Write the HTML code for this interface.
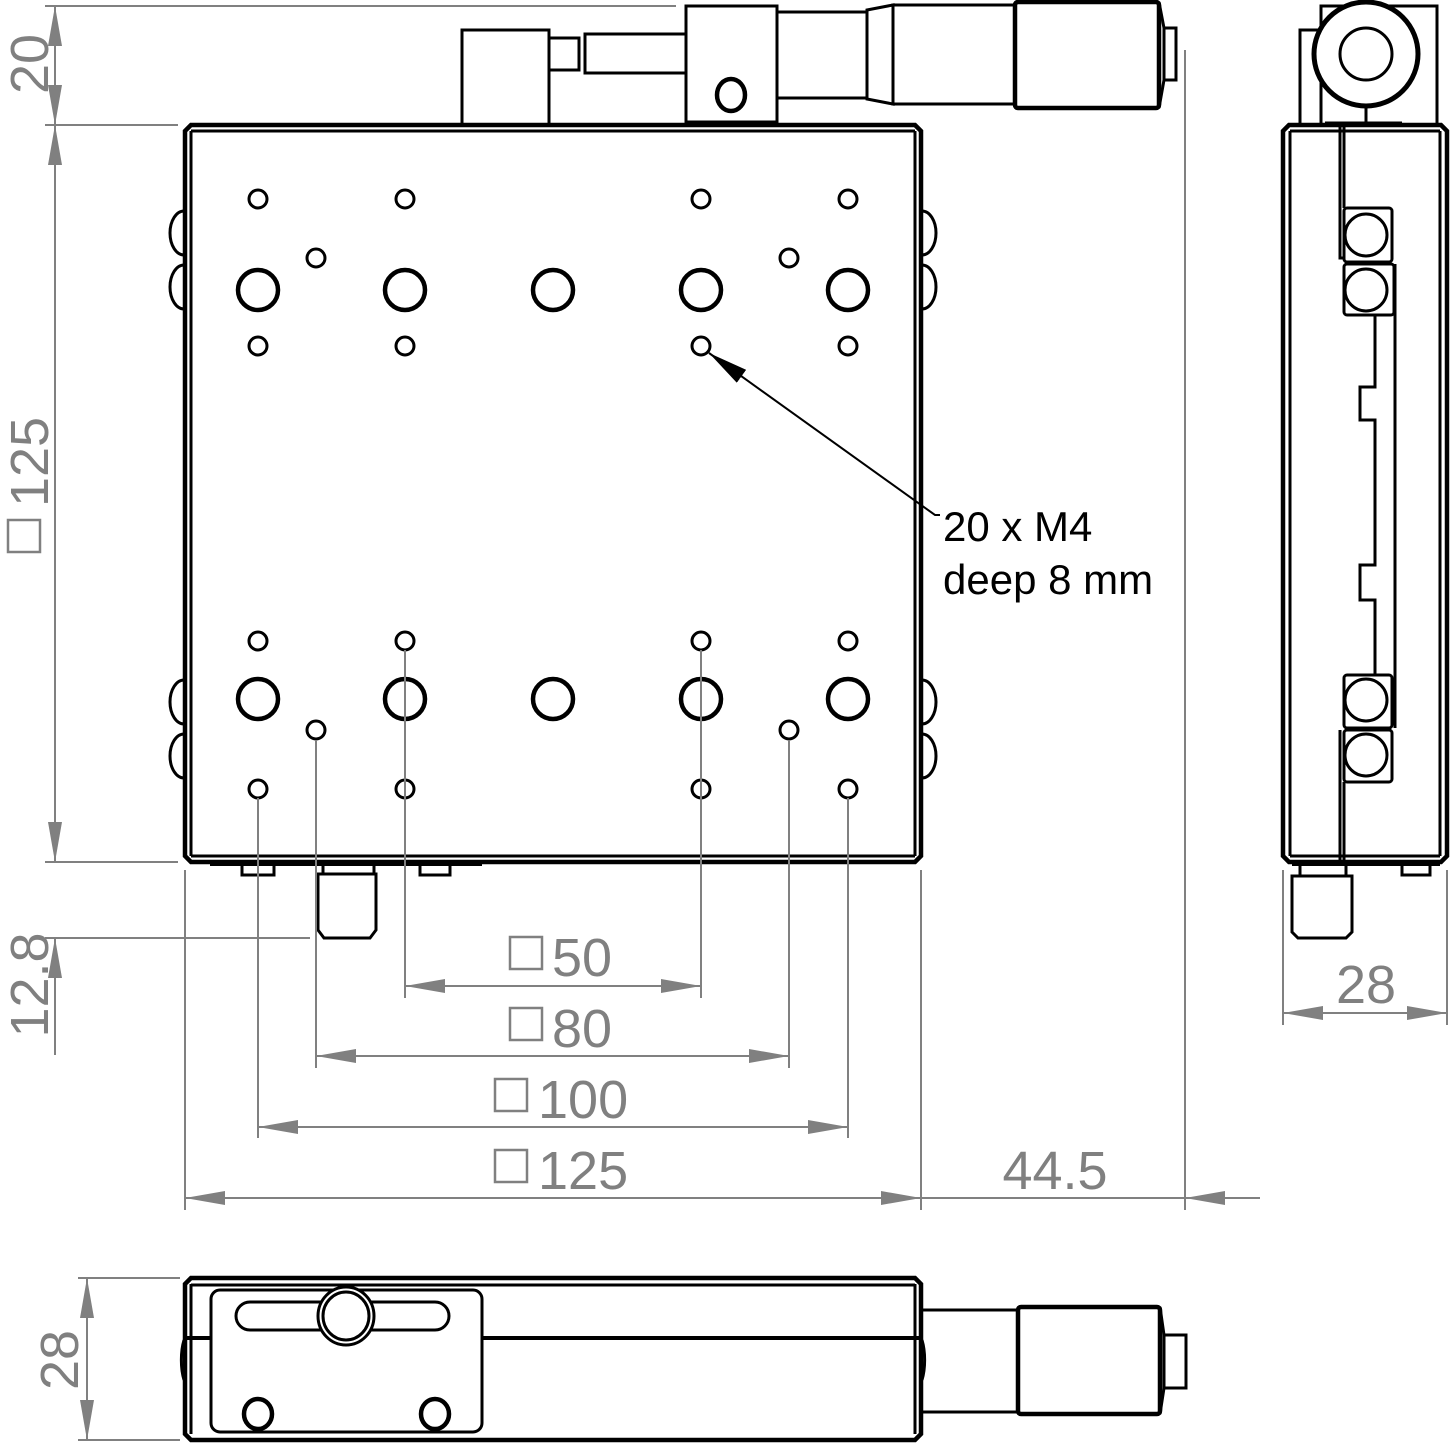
<!DOCTYPE html>
<html><head><meta charset="utf-8"><style>
html,body{margin:0;padding:0;background:#fff;width:1450px;height:1445px;overflow:hidden}
svg{display:block}
.k{fill:none;stroke:#000;stroke-width:3}
.kt{fill:none;stroke:#000;stroke-width:4.5}
.g{fill:none;stroke:#808080;stroke-width:2}
.dt{font-family:"Liberation Sans",sans-serif;font-size:54px;fill:#808080}
.bt{font-family:"Liberation Sans",sans-serif;font-size:42px;fill:#000}
.sq{fill:none;stroke:#808080;stroke-width:2.5}
</style></head><body>
<svg width="1450" height="1445" viewBox="0 0 1450 1445" xmlns="http://www.w3.org/2000/svg">
<defs>
<marker id="a" viewBox="0 0 40 14" refX="40" refY="7" markerWidth="40" markerHeight="14" markerUnits="userSpaceOnUse" orient="auto-start-reverse"><path d="M0,0 L40,7 L0,14z" fill="#808080"/></marker>
<marker id="b" viewBox="0 0 40 16" refX="40" refY="8" markerWidth="40" markerHeight="16" markerUnits="userSpaceOnUse" orient="auto"><path d="M0,0 L40,8 L0,16z" fill="#000"/></marker>
</defs>

<!-- TOP MICROMETER -->
<rect class="k" x="462" y="30" width="87" height="95"/>
<rect class="k" x="549" y="38" width="30" height="32"/>
<rect class="k" x="585" y="34" width="101" height="39"/>
<rect class="k" x="686" y="6" width="91" height="116"/>
<ellipse class="kt" cx="731" cy="95" rx="14" ry="16"/>
<rect class="k" x="777" y="12" width="90" height="86"/>
<path class="k" d="M867,10 L893,5 L893,104 L867,99z"/>
<rect class="k" x="893" y="5" width="122" height="99"/>
<rect class="kt" x="1015" y="2" width="144" height="106" rx="3"/>
<path class="k" d="M1159,2 L1164,28 L1164,80 L1159,108"/>
<rect class="k" x="1164" y="28" width="12" height="52"/>

<!-- MAIN PLATE -->
<path class="kt" d="M191,125 L915,125 L921,131 L921,856 L915,862 L191,862 L185,856 L185,131z"/>
<line class="k" x1="191" y1="131" x2="191" y2="856"/>
<line class="k" x1="915" y1="131" x2="915" y2="856"/>
<line class="k" x1="191" y1="131" x2="915" y2="131"/>
<line class="k" x1="191" y1="856" x2="915" y2="856"/>
<g class="k">
<path d="M184,211 A14,22 0 0 0 184,255"/><path d="M184,265 A14,22 0 0 0 184,309"/>
<path d="M184,680 A14,22 0 0 0 184,724"/><path d="M184,734 A14,22 0 0 0 184,778"/>
<path d="M922,211 A14,22 0 0 1 922,255"/><path d="M922,265 A14,22 0 0 1 922,309"/>
<path d="M922,680 A14,22 0 0 1 922,724"/><path d="M922,734 A14,22 0 0 1 922,778"/>
</g>
<rect x="210" y="862" width="272" height="4" fill="#000"/>
<path class="k" d="M242,866 L242,875 L274,875 L274,866"/>
<path class="k" d="M420,866 L420,875 L450,875 L450,866"/>
<path class="k" d="M323,866 L323,874 L374,874 L374,866"/>
<path class="k" d="M318,874 L376,874 L376,930 L370,938 L324,938 L318,930z"/>

<g class="k">
<circle cx="258" cy="199" r="9"/><circle cx="405" cy="199" r="9"/><circle cx="701" cy="199" r="9"/><circle cx="848" cy="199" r="9"/>
<circle cx="258" cy="346" r="9"/><circle cx="405" cy="346" r="9"/><circle cx="701" cy="346" r="9"/><circle cx="848" cy="346" r="9"/>
<circle cx="258" cy="641" r="9"/><circle cx="405" cy="641" r="9"/><circle cx="701" cy="641" r="9"/><circle cx="848" cy="641" r="9"/>
<circle cx="258" cy="789" r="9"/><circle cx="405" cy="789" r="9"/><circle cx="701" cy="789" r="9"/><circle cx="848" cy="789" r="9"/>
<circle cx="316" cy="258" r="9"/><circle cx="789" cy="258" r="9"/><circle cx="316" cy="730" r="9"/><circle cx="789" cy="730" r="9"/>
</g>
<g class="kt">
<circle cx="258" cy="290" r="20"/><circle cx="405" cy="290" r="20"/><circle cx="553" cy="290" r="20"/><circle cx="701" cy="290" r="20"/><circle cx="848" cy="290" r="20"/>
<circle cx="258" cy="699" r="20"/><circle cx="405" cy="699" r="20"/><circle cx="553" cy="699" r="20"/><circle cx="701" cy="699" r="20"/><circle cx="848" cy="699" r="20"/>
</g>
<polyline points="940,515 935,515 709,353" fill="none" stroke="#000" stroke-width="2" marker-end="url(#b)"/>
<text class="bt" x="943" y="541">20 x M4</text>
<text class="bt" x="943" y="594">deep 8 mm</text>

<!-- DIMENSIONS -->
<g class="g">
<line x1="45" y1="6" x2="676" y2="6"/>
<line x1="45" y1="125" x2="178" y2="125"/>
<line x1="45" y1="862" x2="178" y2="862"/>
<line x1="45" y1="938" x2="310" y2="938"/>
<line x1="185" y1="870" x2="185" y2="1210"/>
<line x1="921" y1="870" x2="921" y2="1210"/>
<line x1="1185" y1="50" x2="1185" y2="1210"/>
<line x1="405" y1="650" x2="405" y2="998"/>
<line x1="701" y1="650" x2="701" y2="998"/>
<line x1="316" y1="740" x2="316" y2="1068"/>
<line x1="789" y1="740" x2="789" y2="1068"/>
<line x1="258" y1="798" x2="258" y2="1138"/>
<line x1="848" y1="798" x2="848" y2="1138"/>
<line x1="1283" y1="870" x2="1283" y2="1025"/>
<line x1="1447" y1="870" x2="1447" y2="1025"/>
<line x1="78" y1="1278" x2="180" y2="1278"/>
<line x1="78" y1="1440" x2="180" y2="1440"/>
</g>
<g class="g">
<line x1="55" y1="6" x2="55" y2="125" marker-start="url(#a)" marker-end="url(#a)"/>
<line x1="55" y1="125" x2="55" y2="862" marker-start="url(#a)" marker-end="url(#a)"/>
<line x1="55" y1="1055" x2="55" y2="938" marker-end="url(#a)"/>
<line x1="405" y1="986" x2="701" y2="986" marker-start="url(#a)" marker-end="url(#a)"/>
<line x1="316" y1="1056" x2="789" y2="1056" marker-start="url(#a)" marker-end="url(#a)"/>
<line x1="258" y1="1127" x2="848" y2="1127" marker-start="url(#a)" marker-end="url(#a)"/>
<line x1="185" y1="1198" x2="921" y2="1198" marker-start="url(#a)" marker-end="url(#a)"/>
<line x1="921" y1="1198" x2="1185" y2="1198"/>
<line x1="1260" y1="1198" x2="1185" y2="1198" marker-end="url(#a)"/>
<line x1="1283" y1="1013" x2="1447" y2="1013" marker-start="url(#a)" marker-end="url(#a)"/>
<line x1="87" y1="1278" x2="87" y2="1440" marker-start="url(#a)" marker-end="url(#a)"/>
</g>
<text class="dt" transform="translate(48,64) rotate(-90)" text-anchor="middle">20</text>
<text class="dt" transform="translate(48,462) rotate(-90)" text-anchor="middle">125</text>
<rect class="sq" x="8" y="520" width="32" height="32"/>
<text class="dt" transform="translate(48,985) rotate(-90)" text-anchor="middle">12.8</text>
<text class="dt" transform="translate(78,1360) rotate(-90)" text-anchor="middle">28</text>
<rect class="sq" x="510" y="937" width="32" height="32"/><text class="dt" x="552" y="976">50</text>
<rect class="sq" x="510" y="1008" width="32" height="32"/><text class="dt" x="552" y="1047">80</text>
<rect class="sq" x="495" y="1079" width="32" height="32"/><text class="dt" x="538" y="1118">100</text>
<rect class="sq" x="495" y="1150" width="32" height="32"/><text class="dt" x="538" y="1189">125</text>
<text class="dt" x="1055" y="1189" text-anchor="middle">44.5</text>
<text class="dt" x="1366" y="1003" text-anchor="middle">28</text>

<!-- RIGHT SIDE VIEW -->
<rect class="k" x="1321" y="6" width="116" height="119"/>
<rect class="k" x="1300" y="30" width="21" height="95"/>
<circle cx="1366" cy="54" r="52" fill="#fff" stroke="#000" stroke-width="5"/>
<circle class="k" cx="1366" cy="54" r="26"/>
<line class="k" x1="1366" y1="106" x2="1366" y2="123"/>
<line x1="1325" y1="123" x2="1402" y2="123" stroke="#000" stroke-width="3"/>
<path class="kt" d="M1289,125 L1441,125 L1447,131 L1447,856 L1441,862 L1289,862 L1283,856 L1283,131z"/>
<line class="k" x1="1290" y1="131" x2="1290" y2="856"/>
<line class="k" x1="1440" y1="131" x2="1440" y2="856"/>
<line class="k" x1="1290" y1="131" x2="1440" y2="131"/>
<line class="k" x1="1290" y1="856" x2="1440" y2="856"/>
<path class="k" d="M1340,125 L1340,258 L1344,258"/>
<line class="k" x1="1344" y1="125" x2="1344" y2="208"/>
<line class="k" x1="1344" y1="782" x2="1344" y2="862"/>
<line class="k" x1="1340" y1="730" x2="1340" y2="862"/>
<rect class="k" x="1344" y="208" width="48" height="54" rx="3"/>
<rect class="k" x="1344" y="264" width="50" height="51" rx="3"/>
<circle class="k" cx="1366" cy="235" r="21"/><circle class="k" cx="1366" cy="290" r="21"/>
<rect class="k" x="1344" y="675" width="48" height="53" rx="3"/>
<rect class="k" x="1344" y="730" width="48" height="52" rx="3"/>
<circle class="k" cx="1366" cy="700" r="21"/><circle class="k" cx="1366" cy="755" r="21"/>
<polyline class="k" points="1375,315 1375,387 1360,387 1360,420 1375,420 1375,565 1360,565 1360,600 1375,600 1375,675"/>
<line class="k" x1="1395" y1="264" x2="1395" y2="728"/>
<rect x="1292" y="862" width="148" height="4" fill="#000"/>
<path class="k" d="M1300,866 L1300,876 L1346,876 L1346,866"/>
<path class="k" d="M1292,876 L1352,876 L1352,932 L1346,938 L1298,938 L1292,932z"/>
<path class="k" d="M1402,866 L1402,875 L1430,875 L1430,866"/>

<!-- BOTTOM VIEW -->
<path class="kt" d="M191,1278 L915,1278 L921,1284 L921,1434 L915,1440 L191,1440 L185,1434 L185,1284z"/>
<line class="k" x1="191" y1="1284" x2="191" y2="1434"/>
<line class="k" x1="915" y1="1284" x2="915" y2="1434"/>
<line class="k" x1="191" y1="1285" x2="915" y2="1285"/>
<line x1="185" y1="1338" x2="921" y2="1338" stroke="#000" stroke-width="4"/>
<path class="k" d="M184,1340 A12,32 0 0 0 184,1380"/>
<path class="k" d="M922,1340 A12,32 0 0 1 922,1380"/>
<rect x="211" y="1290" width="271" height="142" rx="9" fill="#fff" stroke="#000" stroke-width="3"/>
<rect class="k" x="236" y="1302" width="213" height="28" rx="14"/>
<ellipse cx="346" cy="1316" rx="28" ry="29" fill="#fff" stroke="#000" stroke-width="3"/>
<ellipse class="k" cx="346" cy="1316" rx="23" ry="24"/>
<ellipse class="kt" cx="258" cy="1414" rx="14" ry="15"/>
<ellipse class="kt" cx="435" cy="1414" rx="14" ry="15"/>
<rect class="k" x="921" y="1310" width="97" height="102"/>
<rect class="kt" x="1018" y="1307" width="142" height="107" rx="3"/>
<path class="k" d="M1160,1307 L1164,1335 L1164,1388 L1160,1414"/>
<rect class="k" x="1164" y="1335" width="22" height="53"/>
</svg>
</body></html>
